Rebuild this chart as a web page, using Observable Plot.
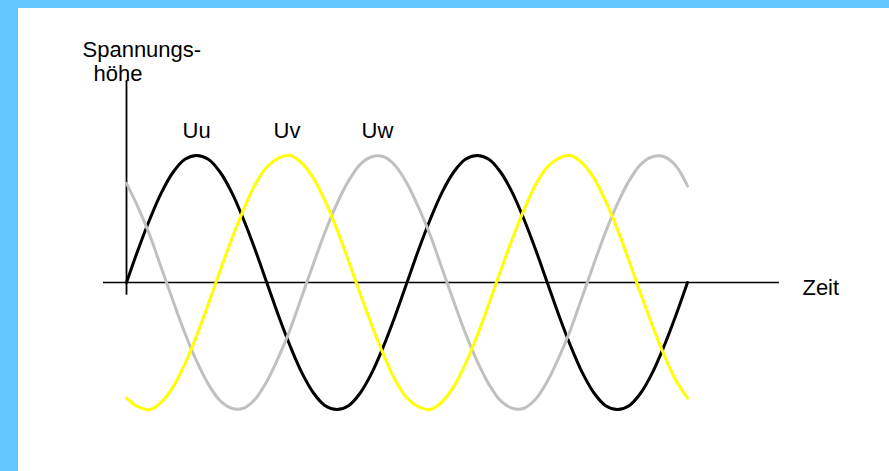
<!DOCTYPE html>
<html>
<head>
<meta charset="utf-8">
<script src="https://cdn.jsdelivr.net/npm/d3@7"></script>
<script src="https://cdn.jsdelivr.net/npm/@observablehq/plot@0.6"></script>
<style>
  html, body { margin: 0; padding: 0; background: #ffffff; overflow: hidden; width: 889px; height: 471px; }
  .band { position: absolute; background: #64c6ff; }
  #bandLeft { left: 0; top: 0; width: 18px; height: 471px; }
  #bandTop { left: 0; top: 0; width: 889px; height: 8px; }
  #wrap { position: absolute; left: 18px; top: 8px; width: 871px; height: 463px; }
  #wrap svg { display: block; background: #ffffff; max-width: none; }
</style>
</head>
<body>
<div class="band" id="bandLeft"></div>
<div class="band" id="bandTop"></div>
<div id="wrap"></div>
<script>
// Time in electrical degrees (two periods)
const time = [0,15,30,45,60,75,90,105,120,135,150,165,180,195,210,225,240,255,270,285,300,315,330,345,
  360,375,390,405,420,435,450,465,480,495,510,525,540,555,570,585,600,615,630,645,660,675,690,705,720];

// Voltage values (relative to peak)
const uu = [0,.26,.5,.71,.87,.97,1,.97,.87,.71,.5,.26,0,-.26,-.5,-.71,-.87,-.97,-1,-.97,-.87,-.71,-.5,-.26,
  0,.26,.5,.71,.87,.97,1,.97,.87,.71,.5,.26,0,-.26,-.5,-.71,-.87,-.97,-1,-.97,-.87,-.71,-.5,-.26,0];
const uv = [-.91,-.98,-1,-.94,-.82,-.64,-.42,-.17,.09,.34,.57,.77,.91,.98,1,.94,.82,.64,.42,.17,-.09,-.34,-.57,-.77,
  -.91,-.98,-1,-.94,-.82,-.64,-.42,-.17,.09,.34,.57,.77,.91,.98,1,.94,.82,.64,.42,.17,-.09,-.34,-.57,-.77,-.91];
const uw = [.78,.59,.37,.11,-.15,-.40,-.62,-.80,-.93,-.99,-.99,-.92,-.78,-.59,-.37,-.11,.15,.40,.62,.80,.93,.99,.99,.92,
  .78,.59,.37,.11,-.15,-.40,-.62,-.80,-.93,-.99,-.99,-.92,-.78,-.59,-.37,-.11,.15,.40,.62,.80,.93,.99,.99,.92,.76];

const seriesNames = ["Uu", "Uv", "Uw"];
const seriesColors = ["#000000", "#ffff00", "#c0c0c0"];
const labelTime = [90, 206, 322];   // where each label sits (first peak)

const xAxisExtent = [-29.5, 838];
const yAxisExtent = [-0.1, 1.59];

const yAxisTitle = ["Spannungs-", "höhe"];
const xAxisTitle = "Zeit";

const rows = (vals) => time.map((t, i) => ({t, v: vals[i]}));
const dataU = rows(uu), dataV = rows(uv), dataW = rows(uw);
const labels = seriesNames.map((n, i) => ({name: n, t: labelTime[i], v: 1}));

const font = "'Liberation Sans', Arial, sans-serif";

const chart = Plot.plot({
  width: 871,
  height: 463,
  marginLeft: 108,
  marginRight: 202,
  marginTop: 147,
  marginBottom: 62,
  x: {domain: [0, 720], axis: null},
  y: {domain: [-1, 1], axis: null},
  style: {fontFamily: font, background: "#ffffff", overflow: "visible"},
  marks: [
    Plot.ruleY([0], {x1: xAxisExtent[0], x2: xAxisExtent[1], stroke: "#000", strokeWidth: 1.7}),
    Plot.ruleX([0], {y1: yAxisExtent[0], y2: yAxisExtent[1], stroke: "#000", strokeWidth: 1.8}),
    Plot.line(dataU, {x: "t", y: "v", stroke: seriesColors[0], strokeWidth: 3, curve: "catmull-rom"}),
    Plot.line(dataW, {x: "t", y: "v", stroke: seriesColors[2], strokeWidth: 3, curve: "catmull-rom"}),
    Plot.line(dataV, {x: "t", y: "v", stroke: seriesColors[1], strokeWidth: 3, curve: "catmull-rom"}),
    Plot.text(labels, {x: "t", y: "v", text: "name", textAnchor: "middle", lineAnchor: "bottom",
      dy: -18, fontSize: 22, fill: "#000"}),
    Plot.text([yAxisTitle[0]], {x: () => 0, y: () => yAxisExtent[1], text: d => d, textAnchor: "start",
      lineAnchor: "bottom", dx: -44, dy: -24, fontSize: 22, fill: "#000"}),
    Plot.text([yAxisTitle[1]], {x: () => 0, y: () => yAxisExtent[1], text: d => d, textAnchor: "start",
      lineAnchor: "bottom", dx: -33, dy: 0, fontSize: 22, fill: "#000"}),
    Plot.text([xAxisTitle], {x: () => xAxisExtent[1], y: () => 0, text: d => d, textAnchor: "start",
      lineAnchor: "bottom", dx: 23, dy: 12, fontSize: 22, fill: "#000"})
  ]
});
document.getElementById("wrap").appendChild(chart);
</script>
</body>
</html>
